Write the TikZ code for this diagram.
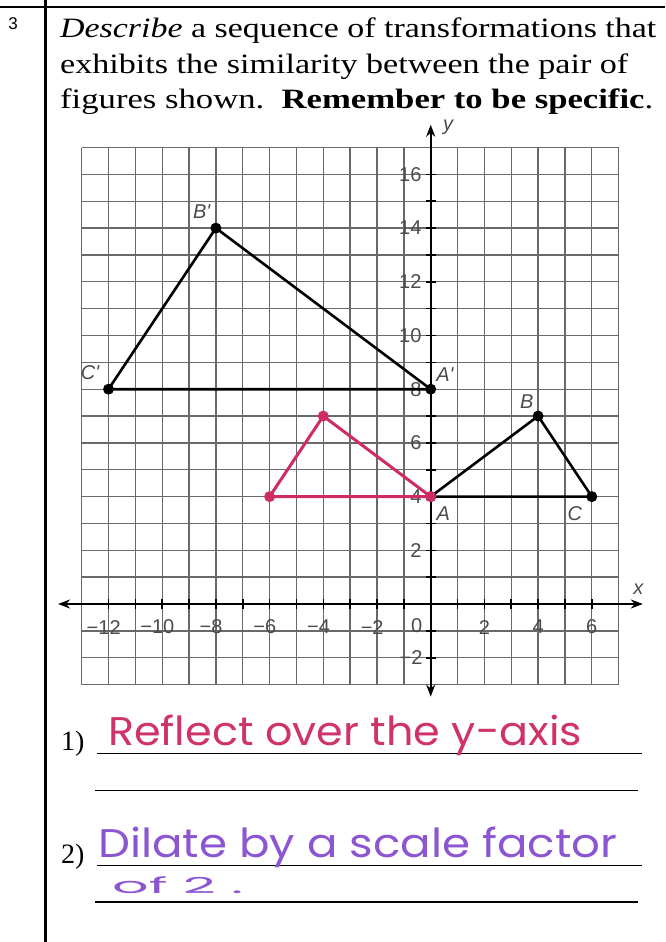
\documentclass[tikz,border=0pt]{standalone}
\usepackage{fontspec}
\usepackage{graphicx}
\setmainfont{Liberation Serif}
\newfontfamily\axfont{Liberation Sans}
\newfontfamily\handfont{Poppins}
\usetikzlibrary{arrows.meta}
\definecolor{pinkink}{RGB}{208,50,108}
\definecolor{purpleink}{RGB}{140,85,210}
\definecolor{tripink}{RGB}{205,45,100}
\definecolor{gridgray}{RGB}{105,105,105}
\definecolor{labgray}{RGB}{75,75,75}
\tikzset{
  qtext/.style={inner sep=0pt, anchor=base west, font=\fontsize{28}{28}\selectfont},
  gridline/.style={draw=gridgray, line width=1.35pt},
  axisline/.style={draw=black, line width=2pt},
  tickline/.style={draw=black, line width=1.6pt},
  axlab/.style={inner sep=0pt, text=labgray, font=\axfont\fontsize{20}{20}\selectfont},
  vlab/.style={inner sep=0pt, text=labgray, font=\axfont\itshape\fontsize{20}{20}\selectfont},
  blackdot/.style={circle, fill=black, inner sep=0pt, minimum size=11pt},
  pinkdot/.style={circle, fill=tripink, inner sep=0pt, minimum size=11pt},
  blackside/.style={draw=black, line width=2.6pt, line join=round},
  pinkside/.style={draw=tripink, line width=3pt, line join=round},
  ansline/.style={draw=black, line width=1.4pt},
  numlab/.style={inner sep=0pt, anchor=base west, font=\fontsize{28}{28}\selectfont},
  handtext/.style={inner sep=0pt, anchor=base west}
}
\begin{document}
\begin{tikzpicture}[x=1pt,y=-1pt]
\useasboundingbox (0,0) rectangle (665,942);
\fill[white] (0,0) rectangle (665,942);
% table rules
\draw[line width=2.2pt] (0,7) -- (665,7);
\draw[line width=3pt] (45.5,0) -- (45.5,942);
\node[inner sep=0pt, anchor=base, font=\axfont\fontsize{17}{17}\selectfont] (num) at (13,30) {3};
% question text, each line fitted to its width
\node[qtext] (q1) at (60,37.3) {\resizebox{596pt}{\height}{\textit{Describe} a sequence of transformations that}};
\node[qtext] (q2) at (60,73.3) {\resizebox{568pt}{\height}{exhibits the similarity between the pair of}};
\node[qtext] (q3) at (60,108.5) {\resizebox{593pt}{\height}{figures shown.\ \ \textbf{Remember to be specific}.}};
% coordinate plane
\begin{scope}[shift={(430.7,604)}, x=26.85pt, y=26.85pt]
  \draw[gridline, step=1] (-13,-3) grid (7,17);
  \coordinate (xl) at (-13.88,0);
  \coordinate (xr) at (7.9,0);
  \coordinate (yb) at (0,-3.45);
  \coordinate (yt) at (0,17.85);
  \draw[axisline, {Stealth[length=12pt,width=9pt]}-{Stealth[length=12pt,width=9pt]}] (xl) -- (xr);
  \draw[axisline, {Stealth[length=12pt,width=9pt]}-{Stealth[length=12pt,width=9pt]}] (yb) -- (yt);
  \foreach \i in {-12,...,6} \draw[tickline] (\i,-0.19) -- (\i,0.19);
  \foreach \j in {-2,...,16} \draw[tickline] (-0.19,\j) -- (0.19,\j);
  \foreach \i in {-12,-10,...,-2} \node[axlab] at (\i-0.18,-0.86) {−\the\numexpr-\i\relax};
  \foreach \i in {2,4,6} \node[axlab] at (\i,-0.86) {\i};
  \node[axlab] (zero) at (-0.52,-0.8) {0};
  \foreach \j in {2,4,...,16} \node[axlab, anchor=east] at (-0.34,\j) {\j};
  \node[axlab, anchor=east] (mtwo) at (-0.3,-2) {−2};
  \node[vlab] (xlab) at (7.73,0.56) {x};
  \node[vlab] (ylab) at (0.65,17.74) {y};
  % large triangle
  \node[blackdot] (Bp) at (-8,14) {};
  \node[blackdot] (Cp) at (-12,8) {};
  \node[blackdot] (Ap) at (0,8) {};
  \draw[blackside] (Cp.center) -- (Bp.center) -- (Ap.center) -- cycle;
  % small triangle
  \node[blackdot] (A) at (0,4) {};
  \node[blackdot] (B) at (4,7) {};
  \node[blackdot] (C) at (6,4) {};
  \draw[blackside] (A.center) -- (B.center) -- (C.center) -- cycle;
  % pink triangle
  \node[pinkdot] (P1) at (-6,4) {};
  \node[pinkdot] (P2) at (-4,7) {};
  \node[pinkdot] (P3) at (0,4) {};
  \draw[pinkside] (P1.center) -- (P2.center) -- (P3.center) -- cycle;
  % vertex labels
  \node[vlab] (lBp) at (-8.53,14.61) {B'};
  \node[vlab] (lCp) at (-12.69,8.61) {C'};
  \node[vlab] (lAp) at (0.53,8.53) {A'};
  \node[vlab] (lB) at (3.58,7.53) {B};
  \node[vlab] (lA) at (0.47,3.38) {A};
  \node[vlab] (lC) at (5.37,3.38) {C};
\end{scope}
% answer area
\node[numlab] (n1) at (61,750) {1)};
\node[numlab] (n2) at (61,863) {2)};
\draw[ansline] (96.7,753.3) -- (641.7,753.3);
\draw[ansline] (95,790.7) -- (638,790.7);
\draw[ansline] (96.7,865.7) -- (641.7,865.7);
\draw[ansline] (95,902) -- (638,902);
\node[handtext, text=pinkink] (ans1) at (108,745) {\handfont\fontsize{40}{40}\selectfont\resizebox{474pt}{\height}{Reflect over the y-axis}};
\node[handtext, text=purpleink] (ans2) at (98,857) {\handfont\fontsize{40}{40}\selectfont\resizebox{519pt}{\height}{Dilate by a scale factor}};
\node[handtext, text=purpleink] (ans3) at (112,893) {\handfont\fontsize{22}{22}\selectfont\resizebox{131pt}{\height}{of 2 .}};
\end{tikzpicture}
\end{document}
